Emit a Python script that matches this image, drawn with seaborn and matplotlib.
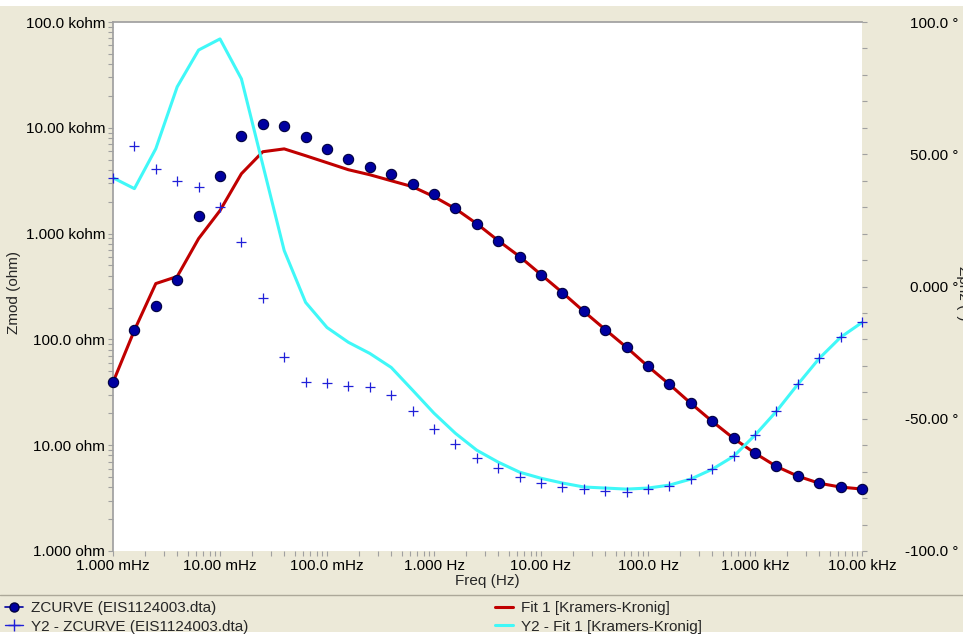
import numpy as np
import pandas as pd
import matplotlib
matplotlib.use("Agg")
import matplotlib.pyplot as plt
import seaborn as sns
from matplotlib.lines import Line2D
from matplotlib.patches import Rectangle
from matplotlib.ticker import FixedLocator, NullFormatter

# ---------------- data ----------------
freq = [0.001, 0.001585, 0.002512, 0.003981, 0.00631,
        0.01, 0.01585, 0.02512, 0.03981, 0.0631,
        0.1, 0.1585, 0.2512, 0.3981, 0.631,
        1.0, 1.585, 2.512, 3.981, 6.31,
        10.0, 15.85, 25.12, 39.81, 63.1,
        100.0, 158.5, 251.2, 398.1, 631.0,
        1000.0, 1585.0, 2512.0, 3981.0, 6310.0, 10000.0]

zmod = [39.3, 122, 209, 368, 1480, 3525, 8410, 10900, 10400, 8230,
        6330, 5100, 4290, 3680, 2960, 2380, 1760, 1240, 859, 607,
        410, 277, 184, 124, 84, 55.6, 37.6, 24.9, 16.8, 11.6,
        8.4, 6.3, 5.1, 4.37, 4.02, 3.85]

zmod_fit = [39.3, 122, 337, 393, 897, 1650, 3680, 5940, 6320, 5450,
            4680, 4015, 3600, 3160, 2775, 2235, 1720, 1240, 859, 607,
            410, 277, 184, 124, 84, 55.6, 37.6, 24.9, 16.8, 11.6,
            8.4, 6.3, 5.1, 4.37, 4.02, 3.85]

zphz = [41.1, 53.2, 44.5, 40.0, 37.7, 30.2, 17.0, -4.2, -26.8, -36.2,
        -36.6, -37.7, -38.1, -41.1, -47.2, -54.0, -59.6, -64.9, -68.7, -72.1,
        -74.3, -75.8, -76.6, -77.4, -77.7, -76.6, -75.5, -72.8, -69.1, -64.2,
        -56.2, -47.2, -37.0, -27.2, -19.2, -13.6]

zphz_fit = [41.1, 37.0, 52.1, 75.5, 89.4, 93.6, 78.5, 46.0, 13.6, -6.0,
            -15.5, -21.1, -25.3, -30.6, -39.2, -47.9, -55.5, -61.9, -66.4, -70.2,
            -72.5, -74.3, -75.8, -76.2, -76.6, -76.2, -75.1, -72.8, -69.1, -64.2,
            -56.2, -47.2, -37.0, -27.2, -19.2, -13.6]

x_ticks = [0.001, 0.01, 0.1, 1, 10, 100, 1000, 10000]
x_labels = ["1.000 mHz", "10.00 mHz", "100.0 mHz", "1.000 Hz",
            "10.00 Hz", "100.0 Hz", "1.000 kHz", "10.00 kHz"]
y_ticks = [1, 10, 100, 1000, 10000, 100000]
y_labels = ["1.000 ohm", "10.00 ohm", "100.0 ohm",
            "1.000 kohm", "10.00 kohm", "100.0 kohm"]
y2_ticks = [-100, -50, 0, 50, 100]
y2_labels = ["-100.0 °", "-50.00 °", "0.000 °", "50.00 °", "100.0 °"]

legend_labels = ["ZCURVE (EIS1124003.dta)", "Y2 - ZCURVE (EIS1124003.dta)",
                 "Fit 1 [Kramers-Kronig]", "Y2 - Fit 1 [Kramers-Kronig]"]

df = pd.DataFrame({"freq": freq, "zmod": zmod, "zmod_fit": zmod_fit,
                   "zphz": zphz, "zphz_fit": zphz_fit})

# ---------------- style ----------------
sns.set_theme(style="white")
FONT = "Liberation Sans"
plt.rcParams["font.family"] = [FONT, "DejaVu Sans"]
FS = 11

BG = "#ECE9D8"
C_DOT = "#0000A0"
C_PLUS = "#2020D8"
C_RED = "#C00000"
C_CYAN = "#40F8F8"
GRAY = "#A0A0A0"

W, H = 963, 635
fig = plt.figure(figsize=(W / 100, H / 100), dpi=100, facecolor=BG)

def fx(px):
    return px / W

def fy(py):
    return 1 - py / H

# decorations: white strips, separator
fig.patches.append(Rectangle((0, fy(6)), 1, 6 / H, transform=fig.transFigure,
                             facecolor="white", edgecolor="none", zorder=0))
fig.patches.append(Rectangle((0, 0), 1, 3 / H, transform=fig.transFigure,
                             facecolor="white", edgecolor="none", zorder=0))
fig.add_artist(Line2D([0, 1], [fy(594.5), fy(594.5)], transform=fig.transFigure,
                      color="#ACA899", lw=1))

L, R, T, B = 113, 862, 22, 551
ax = fig.add_axes([fx(L), fy(B), (R - L) / W, (B - T) / H])
ax.set_facecolor("white")
ax2 = ax.twinx()

# ---------------- data marks ----------------
sns.lineplot(data=df, x="freq", y="zmod_fit", ax=ax, color=C_RED, lw=2.2,
             sort=False, zorder=2, legend=False)
sns.scatterplot(data=df, x="freq", y="zmod", ax=ax, color=C_DOT, s=55,
                edgecolor="#000040", linewidth=0.8, zorder=3, legend=False,
                clip_on=False)

sns.lineplot(data=df, x="freq", y="zphz_fit", ax=ax2, color=C_CYAN, lw=2.2,
             sort=False, zorder=2, legend=False)
sns.scatterplot(data=df, x="freq", y="zphz", ax=ax2, color=C_PLUS, marker="+",
                s=50, linewidth=0.9, zorder=3, legend=False, clip_on=False)

# ---------------- axes ----------------
for a in (ax, ax2):
    a.set_xscale("log")
    a.set_xlim(freq[0], freq[-1])
    a.set_xlabel("")
    a.set_ylabel("")
    for s in a.spines.values():
        s.set_visible(False)

ax.set_yscale("log")
ax.set_ylim(1, 100000)
ax2.set_ylim(-100, 100)

ax.spines["left"].set_visible(True)
ax.spines["left"].set_color(GRAY)
ax.spines["top"].set_visible(True)
ax.spines["top"].set_color(GRAY)

# x ticks
ax.xaxis.set_major_locator(FixedLocator(x_ticks))
ax.set_xticklabels(x_labels)
minor_x = [m * 10.0 ** e for e in range(-3, 4) for m in range(2, 10)]
ax.xaxis.set_minor_locator(FixedLocator(minor_x))
ax.xaxis.set_minor_formatter(NullFormatter())

# left y ticks
ax.yaxis.set_major_locator(FixedLocator(y_ticks))
ax.set_yticklabels(y_labels)
minor_y = [m * 10.0 ** e for e in range(0, 5) for m in range(2, 10)]
ax.yaxis.set_minor_locator(FixedLocator(minor_y))
ax.yaxis.set_minor_formatter(NullFormatter())

# right y ticks
ax2.yaxis.set_major_locator(FixedLocator(y2_ticks))
ax2.set_yticklabels(y2_labels)
ax2.yaxis.set_minor_locator(FixedLocator(list(range(-90, 100, 10))))
ax2.yaxis.set_minor_formatter(NullFormatter())

ax.tick_params(axis="both", which="both", direction="out", length=3.5,
               width=0.8, color=GRAY, labelsize=FS, labelcolor="black")
ax.tick_params(axis="x", which="both", pad=2.5, bottom=True, top=False)
ax.tick_params(axis="y", which="both", pad=2, left=True, right=False)
ax2.tick_params(axis="y", which="both", direction="out", length=3.5, width=0.8,
                color=GRAY, labelsize=FS, labelcolor="black", right=True,
                left=False, pad=66)
ax2.tick_params(axis="x", which="both", bottom=False, top=False,
                labelbottom=False)
for lbl in ax2.get_yticklabels():
    lbl.set_horizontalalignment("right")

# axis titles
fig.text(fx(487), fy(581), "Freq (Hz)", ha="center", va="center", fontsize=FS)
fig.text(fx(14), fy(293), "Zmod (ohm)", ha="center", va="center",
         rotation=90, fontsize=FS)
fig.text(fx(963), fy(293), "Zphz (°)", ha="center", va="center",
         rotation=-90, fontsize=FS)

# ---------------- legends ----------------
h1 = Line2D([], [], color=C_DOT, marker="o", markersize=6.5, lw=1.2,
            markeredgecolor="#000040")
h2 = Line2D([], [], color=C_PLUS, marker="+", markersize=8, lw=1.0)
h3 = Line2D([], [], color=C_RED, lw=2.2)
h4 = Line2D([], [], color=C_CYAN, lw=2.2)

leg_kw = dict(frameon=False, fontsize=FS, handlelength=1.2, handletextpad=0.5,
              borderpad=0, borderaxespad=0, labelspacing=0.3, loc="upper left")
leg1 = fig.legend([h1, h2], legend_labels[:2],
                  bbox_to_anchor=(fx(5), fy(601)), **leg_kw)
leg2 = fig.legend([h3, h4], legend_labels[2:],
                  bbox_to_anchor=(fx(495), fy(601)), **leg_kw)

fig.savefig("out.png", dpi=100, facecolor=BG)
